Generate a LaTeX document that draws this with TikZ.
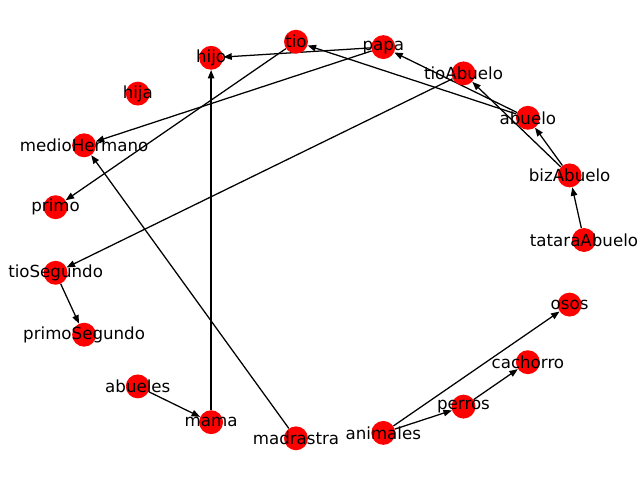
\documentclass[tikz,border=0pt]{standalone}
\usepackage{fontspec}
\setmainfont{DejaVu Sans}
\usetikzlibrary{arrows.meta, backgrounds}

\begin{document}
\begin{tikzpicture}
	[x=0.025cm, y=-0.025cm, >={Triangle[length=6pt,width=4.6pt]},
	 persona/.style={circle, fill=red, inner sep=0pt, minimum size=17pt,
	   label={[font=\fontsize{11.85}{14}\selectfont, text=black]center:#1}},
	 enlace/.style={->, line width=0.9pt}]
   \useasboundingbox (0,0) rectangle (640,480);
   % circular layout, counterclockwise from the right
   \node[persona=tataraAbuelo] (tataraAbuelo) at (584.0,240.0) {};
   \node[persona=bizAbuelo]    (bizAbuelo)    at (569.6,175.4) {};
   \node[persona=abuelo]       (abuelo)       at (527.9,117.8) {};
   \node[persona=tioAbuelo]    (tioAbuelo)    at (463.5,73.4) {};
   \node[persona=papa]         (papa)         at (383.3,47.1) {};
   \node[persona=tio]          (tio)          at (296.0,41.7) {};
   \node[persona=hijo]         (hijo)         at (211.1,57.8) {};
   \node[persona=hija]         (hija)         at (137.8,93.6) {};
   \node[persona=medioHermano] (medioHermano) at (84.1,145.3) {};
   \node[persona=primo]        (primo)        at (55.6,207.2) {};
   \node[persona=tioSegundo]   (tioSegundo)   at (55.6,272.8) {};
   \node[persona=primoSegundo] (primoSegundo) at (84.1,334.7) {};
   \node[persona=abueles]      (abueles)      at (137.8,386.4) {};
   \node[persona=mama]         (mama)         at (211.1,422.2) {};
   \node[persona=madrastra]    (madrastra)    at (296.0,438.3) {};
   \node[persona=animales]     (animales)     at (383.3,432.9) {};
   \node[persona=perros]       (perros)       at (463.5,406.6) {};
   \node[persona=cachorro]     (cachorro)     at (527.9,362.2) {};
   \node[persona=osos]         (osos)         at (569.6,304.6) {};

   \begin{scope}[on background layer]
     \draw[enlace] (tataraAbuelo) -- (bizAbuelo);
     \draw[enlace] (bizAbuelo) -- (abuelo);
     \draw[enlace] (bizAbuelo) -- (tioAbuelo);
     \draw[enlace] (abuelo) -- (papa);
     \draw[enlace] (abuelo) -- (tio);
     \draw[enlace] (tioAbuelo) -- (tioSegundo);
     \draw[enlace] (papa) -- (hijo);
     \draw[enlace] (papa) -- (medioHermano);
     \draw[enlace] (tio) -- (primo);
     \draw[enlace] (tioSegundo) -- (primoSegundo);
     \draw[enlace] (abueles) -- (mama);
     \draw[enlace] (mama) -- (hijo);
     \draw[enlace] (madrastra) -- (medioHermano);
     \draw[enlace] (animales) -- (perros);
     \draw[enlace] (animales) -- (osos);
     \draw[enlace] (perros) -- (cachorro);
   \end{scope}
\end{tikzpicture}
\end{document}
